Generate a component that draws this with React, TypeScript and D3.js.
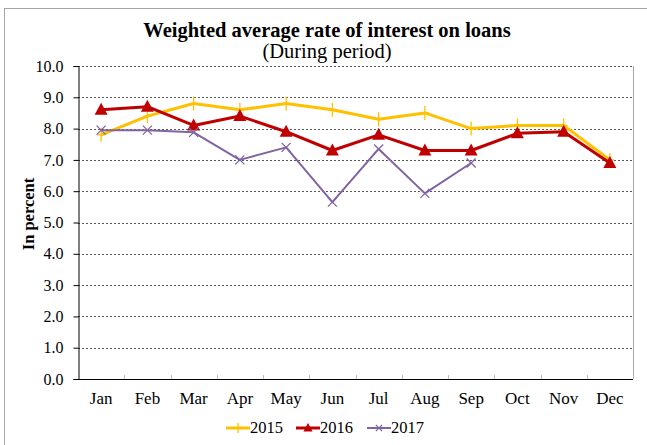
import { useRef, useEffect } from "react";
import * as d3 from "d3";

const months = ["Jan", "Feb", "Mar", "Apr", "May", "Jun", "Jul", "Aug", "Sep", "Oct", "Nov", "Dec"];
const rate2015 = [7.8, 8.4, 8.8, 8.6, 8.8, 8.6, 8.3, 8.5, 8.0, 8.1, 8.1, 7.0];
const rate2016 = [8.6, 8.7, 8.1, 8.4, 7.9, 7.3, 7.8, 7.3, 7.3, 7.85, 7.9, 6.9];
const rate2017 = [7.95, 7.95, 7.88, 7.0, 7.4, 5.65, 7.35, 5.93, 6.9];
const yTicks = [0, 1, 2, 3, 4, 5, 6, 7, 8, 9, 10];

const W = 647;
const H = 445;
const PLOT = { left: 78, right: 633, top: 66, bottom: 379 };
const FONT = "'Liberation Serif', 'Times New Roman', serif";

const series = [
  { name: "2015", values: rate2015, color: "#FFC000", width: 3, marker: "plus" },
  { name: "2016", values: rate2016, color: "#C00000", width: 3, marker: "triangle" },
  { name: "2017", values: rate2017, color: "#8064A2", width: 2, marker: "cross" },
];

export default function App() {
  const svgRef = useRef<SVGSVGElement>(null);

  useEffect(() => {
    if (!svgRef.current) return;
    const svg = d3.select(svgRef.current);
    svg.selectAll("*").remove();

    // outer frame
    svg.append("rect").attr("x", 4.5).attr("y", 8.5).attr("width", W + 10).attr("height", H + 10)
      .attr("fill", "#fff").attr("stroke", "#a6a6a6").attr("stroke-width", 1);

    const x = d3.scaleBand().domain(months).range([PLOT.left, PLOT.right]);
    const y = d3.scaleLinear().domain([0, 10]).range([PLOT.bottom, PLOT.top]);

    // gridlines
    svg.append("g").selectAll("line").data(yTicks.filter((d) => d > 0)).join("line")
      .attr("x1", PLOT.left).attr("x2", PLOT.right)
      .attr("y1", (d) => Math.round(y(d)) + 0.5).attr("y2", (d) => Math.round(y(d)) + 0.5)
      .attr("stroke", "#595959").attr("stroke-width", 1).attr("stroke-dasharray", "2,2");

    // right border
    svg.append("line").attr("x1", PLOT.right + 0.5).attr("x2", PLOT.right + 0.5)
      .attr("y1", PLOT.top).attr("y2", PLOT.bottom).attr("stroke", "#a6a6a6");

    // x-axis ticks between categories
    svg.append("g").selectAll("line").data(d3.range(1, months.length + 1)).join("line")
      .attr("x1", (i) => Math.round(PLOT.left + i * x.step()) + 0.5)
      .attr("x2", (i) => Math.round(PLOT.left + i * x.step()) + 0.5)
      .attr("y1", PLOT.bottom).attr("y2", PLOT.bottom - 4)
      .attr("stroke", "#bfbfbf");

    // y axis
    const yAxis = svg.append("g").attr("transform", `translate(${PLOT.left + 0.5},0)`)
      .call(d3.axisLeft(y).tickValues(yTicks).tickSize(5).tickPadding(10).tickFormat((d) => (d as number).toFixed(1)));
    yAxis.select(".domain").attr("stroke", "#000");
    yAxis.selectAll(".tick line").attr("stroke", "#000");
    yAxis.selectAll("text").attr("font-family", FONT).attr("font-size", 16).attr("fill", "#000");

    // x axis line
    svg.append("line").attr("x1", PLOT.left).attr("x2", PLOT.right)
      .attr("y1", PLOT.bottom + 0.5).attr("y2", PLOT.bottom + 0.5).attr("stroke", "#000");

    svg.append("g").selectAll("text").data(months).join("text")
      .attr("x", (d) => x(d)! + x.bandwidth() / 2).attr("y", 404)
      .attr("text-anchor", "middle").attr("font-family", FONT).attr("font-size", 17)
      .text((d) => d);

    const drawMarker = (g: d3.Selection<SVGGElement, unknown, null, undefined>, type: string, cx: number, cy: number, color: string, k = 1) => {
      if (type === "plus") {
        g.append("path").attr("d", `M${cx - 4 * k},${cy}H${cx + 4 * k}M${cx},${cy - 7 * k}V${cy + 7 * k}`)
          .attr("stroke", color).attr("stroke-width", 1.3).attr("fill", "none");
      } else if (type === "triangle") {
        g.append("path").attr("d", `M${cx},${cy - 7 * k}L${cx + 6.5 * k},${cy + 5 * k}L${cx - 6.5 * k},${cy + 5 * k}Z`)
          .attr("fill", color);
      } else {
        g.append("path").attr("d", `M${cx - 4.5 * k},${cy - 4.5 * k}L${cx + 4.5 * k},${cy + 4.5 * k}M${cx - 4.5 * k},${cy + 4.5 * k}L${cx + 4.5 * k},${cy - 4.5 * k}`)
          .attr("stroke", color).attr("stroke-width", 1.3).attr("fill", "none");
      }
    };

    const line = d3.line<number>()
      .x((_, i) => x(months[i])! + x.bandwidth() / 2)
      .y((d) => y(d));

    for (const s of series) {
      const g = svg.append("g");
      g.append("path").datum(s.values).attr("d", line)
        .attr("fill", "none").attr("stroke", s.color).attr("stroke-width", s.width)
        .attr("stroke-linejoin", "round");
      s.values.forEach((v, i) => drawMarker(g, s.marker, x(months[i])! + x.bandwidth() / 2, y(v), s.color));
    }

    // title
    svg.append("text").attr("x", 327).attr("y", 37).attr("text-anchor", "middle")
      .attr("font-family", FONT).attr("font-size", 20.5).attr("font-weight", "bold")
      .text("Weighted average rate of interest on loans");
    svg.append("text").attr("x", 327).attr("y", 58).attr("text-anchor", "middle")
      .attr("font-family", FONT).attr("font-size", 20.5)
      .text("(During period)");

    // y label
    svg.append("text").attr("transform", `translate(34,${214}) rotate(-90)`)
      .attr("text-anchor", "middle").attr("font-family", FONT).attr("font-size", 16.5).attr("font-weight", "bold")
      .text("In percent");

    // legend
    const legendX = [226, 296, 367];
    series.forEach((s, i) => {
      const g = svg.append("g");
      const lx = legendX[i];
      g.append("line").attr("x1", lx).attr("x2", lx + 24).attr("y1", 428).attr("y2", 428)
        .attr("stroke", s.color).attr("stroke-width", s.width);
      drawMarker(g, s.marker, lx + 12, 428, s.color, 0.7);
      g.append("text").attr("x", lx + 24).attr("y", 433).attr("font-family", FONT).attr("font-size", 16.5)
        .text(s.name);
    });
  }, []);

  return (
    <svg ref={svgRef} width={W} height={H} style={{ position: "absolute", left: 0, top: 0, background: "#fff" }} />
  );
}
